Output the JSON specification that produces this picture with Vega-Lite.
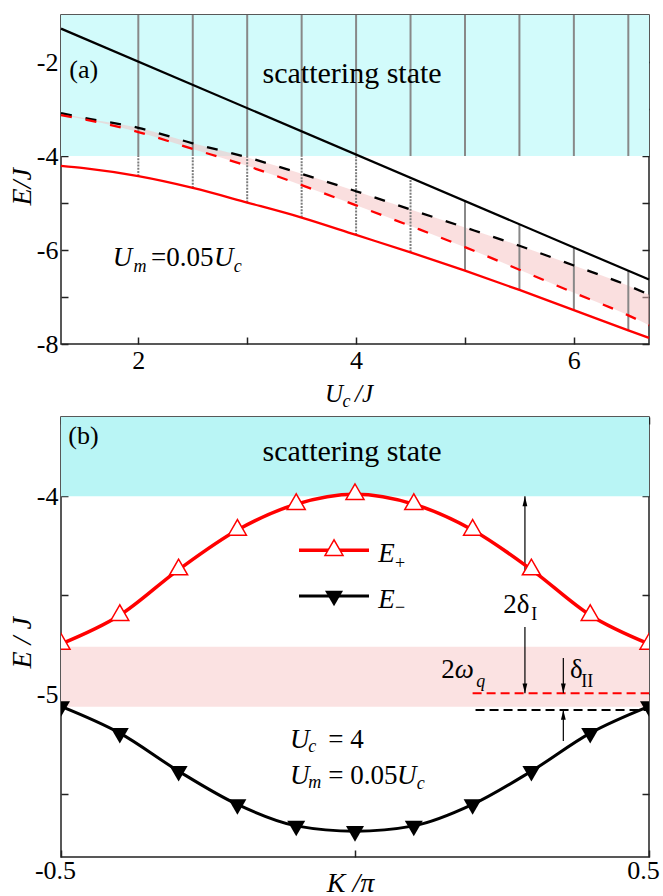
{
  "$schema": "https://vega.github.io/schema/vega-lite/v6.json",
  "autosize": {"type": "pad"},
  "padding": {"left": 7, "top": 13, "right": 0, "bottom": 0},
  "background": "#ffffff",
  "bounds": "flush",
  "spacing": 73,
  "config": {
    "font": "Liberation Serif",
    "view": {"stroke": "#222222", "strokeWidth": 1.5},
    "axis": {
      "domain": false, "grid": false, "tickSize": -7, "tickWidth": 1.5, "tickColor": "#222222",
      "labelFont": "Liberation Serif", "labelFontSize": 26, "labelColor": "#000000",
      "labelOverlap": false, "labelFlush": false, "labelBound": false,
      "titleFont": "Liberation Serif", "titleFontSize": 28, "titleFontStyle": "italic",
      "titleFontWeight": "normal", "titleColor": "#000000"
    },
    "text": {"font": "Liberation Serif", "color": "#000000"}
  },
  "datasets": {
    "a_curves": [
      {"U": 1.29, "solid": -4.21, "dashb": -3.09, "dashr": -3.13},
      {"U": 1.5, "solid": -4.26, "dashb": -3.19, "dashr": -3.22},
      {"U": 2.0, "solid": -4.43, "dashb": -3.40, "dashr": -3.49},
      {"U": 2.5, "solid": -4.68, "dashb": -3.73, "dashr": -3.85},
      {"U": 3.0, "solid": -4.99, "dashb": -4.03, "dashr": -4.21},
      {"U": 3.5, "solid": -5.31, "dashb": -4.38, "dashr": -4.62},
      {"U": 4.0, "solid": -5.68, "dashb": -4.75, "dashr": -5.05},
      {"U": 4.5, "solid": -6.05, "dashb": -5.14, "dashr": -5.49},
      {"U": 5.0, "solid": -6.44, "dashb": -5.52, "dashr": -5.94},
      {"U": 5.5, "solid": -6.85, "dashb": -5.91, "dashr": -6.42},
      {"U": 6.0, "solid": -7.28, "dashb": -6.33, "dashr": -6.91},
      {"U": 6.5, "solid": -7.71, "dashb": -6.76, "dashr": -7.39},
      {"U": 6.69, "solid": -7.87, "dashb": -6.95, "dashr": -7.60}
    ],
    "a_black": [{"U": 1.29, "E": -1.29}, {"U": 6.69, "E": -6.63}],
    "a_cont": [
      {"U": 2.0, "lo": -4.43, "up": -4.0},
      {"U": 2.5, "lo": -4.68, "up": -4.0},
      {"U": 3.0, "lo": -4.99, "up": -4.0},
      {"U": 3.5, "lo": -5.31, "up": -4.0},
      {"U": 4.0, "lo": -5.68, "up": -4.0},
      {"U": 4.5, "lo": -6.05, "up": -4.47},
      {"U": 5.0, "lo": -6.44, "up": -4.97},
      {"U": 5.5, "lo": -6.85, "up": -5.46},
      {"U": 6.0, "lo": -7.28, "up": -5.95},
      {"U": 6.5, "lo": -7.71, "up": -6.44}
    ],
    "b_plus": [
      {"K": -0.5, "E": -4.745}, {"K": -0.4, "E": -4.60}, {"K": -0.3, "E": -4.37},
      {"K": -0.2, "E": -4.17}, {"K": -0.1, "E": -4.04}, {"K": 0.0, "E": -3.99},
      {"K": 0.1, "E": -4.04}, {"K": 0.2, "E": -4.17}, {"K": 0.3, "E": -4.37},
      {"K": 0.4, "E": -4.60}, {"K": 0.5, "E": -4.745}
    ],
    "b_minus": [
      {"K": -0.5, "E": -5.06}, {"K": -0.4, "E": -5.195}, {"K": -0.3, "E": -5.387},
      {"K": -0.2, "E": -5.555}, {"K": -0.1, "E": -5.663}, {"K": 0.0, "E": -5.69},
      {"K": 0.1, "E": -5.663}, {"K": 0.2, "E": -5.555}, {"K": 0.3, "E": -5.387},
      {"K": 0.4, "E": -5.195}, {"K": 0.5, "E": -5.06}
    ]
  },
  "vconcat": [
    {
      "width": 588,
      "height": 329,
      "resolve": {"axis": {"x": "independent", "y": "independent"}},
      "layer": [
        {
          "data": {"values": [{"lo": -4, "hi": -1}]},
          "mark": {"type": "rect", "color": "#d2fbfb"},
          "encoding": {
            "y": {"field": "lo", "type": "quantitative", "scale": {"domain": [-8, -1], "nice": false, "zero": false}, "axis": null},
            "y2": {"field": "hi"}
          }
        },
        {
          "data": {"name": "a_curves"},
          "mark": {"type": "area", "color": "#f5c0c0", "opacity": 0.5, "interpolate": "monotone"},
          "encoding": {
            "x": {"field": "U", "type": "quantitative", "scale": {"domain": [1.29, 6.69], "nice": false, "zero": false}, "axis": null},
            "y": {"field": "dashr", "type": "quantitative", "scale": {"domain": [-8, -1], "nice": false, "zero": false}, "axis": null},
            "y2": {"field": "dashb"}
          }
        },
        {
          "data": {"name": "a_cont"},
          "mark": {"type": "rule", "color": "#888888", "strokeWidth": 2},
          "encoding": {
            "x": {"field": "U", "type": "quantitative", "scale": {"domain": [1.29, 6.69], "nice": false, "zero": false}, "axis": null},
            "y": {"datum": -4, "type": "quantitative", "scale": {"domain": [-8, -1], "nice": false, "zero": false}, "axis": null},
            "y2": {"datum": -1}
          }
        },
        {
          "data": {"name": "a_cont"},
          "transform": [{"filter": "datum.U <= 4.5"}],
          "mark": {"type": "rule", "color": "#7c7c7c", "strokeWidth": 2, "strokeDash": [2, 1.2]},
          "encoding": {
            "x": {"field": "U", "type": "quantitative", "scale": {"domain": [1.29, 6.69], "nice": false, "zero": false}, "axis": null},
            "y": {"field": "lo", "type": "quantitative", "scale": {"domain": [-8, -1], "nice": false, "zero": false}, "axis": null},
            "y2": {"field": "up"}
          }
        },
        {
          "data": {"name": "a_cont"},
          "transform": [{"filter": "datum.U >= 5"}],
          "mark": {"type": "rule", "color": "#888888", "strokeWidth": 2},
          "encoding": {
            "x": {"field": "U", "type": "quantitative", "scale": {"domain": [1.29, 6.69], "nice": false, "zero": false}, "axis": null},
            "y": {"field": "lo", "type": "quantitative", "scale": {"domain": [-8, -1], "nice": false, "zero": false}, "axis": null},
            "y2": {"field": "up"}
          }
        },
        {
          "data": {"name": "a_black"},
          "mark": {"type": "line", "color": "#000000", "strokeWidth": 2.2},
          "encoding": {
            "x": {"field": "U", "type": "quantitative", "scale": {"domain": [1.29, 6.69], "nice": false, "zero": false}, "axis": null},
            "y": {"field": "E", "type": "quantitative", "scale": {"domain": [-8, -1], "nice": false, "zero": false}, "axis": null}
          }
        },
        {
          "data": {"name": "a_curves"},
          "mark": {"type": "line", "color": "#000000", "strokeWidth": 2.3, "strokeDash": [11, 14], "interpolate": "monotone"},
          "encoding": {
            "x": {"field": "U", "type": "quantitative", "scale": {"domain": [1.29, 6.69], "nice": false, "zero": false}, "axis": null},
            "y": {"field": "dashb", "type": "quantitative", "scale": {"domain": [-8, -1], "nice": false, "zero": false}, "axis": null}
          }
        },
        {
          "data": {"name": "a_curves"},
          "mark": {"type": "line", "color": "#ff0000", "strokeWidth": 2.3, "strokeDash": [11, 14], "interpolate": "monotone"},
          "encoding": {
            "x": {"field": "U", "type": "quantitative", "scale": {"domain": [1.29, 6.69], "nice": false, "zero": false}, "axis": null},
            "y": {"field": "dashr", "type": "quantitative", "scale": {"domain": [-8, -1], "nice": false, "zero": false}, "axis": null}
          }
        },
        {
          "data": {"name": "a_curves"},
          "mark": {"type": "line", "color": "#ff0000", "strokeWidth": 2.3, "interpolate": "monotone"},
          "encoding": {
            "x": {"field": "U", "type": "quantitative", "scale": {"domain": [1.29, 6.69], "nice": false, "zero": false}, "axis": null},
            "y": {"field": "solid", "type": "quantitative", "scale": {"domain": [-8, -1], "nice": false, "zero": false}, "axis": null}
          }
        },
        {
          "data": {"values": [{"U": 3.963, "E": -2.44, "t": "scattering state"}]},
          "mark": {"type": "text", "align": "center", "baseline": "alphabetic", "fontSize": 30},
          "encoding": {
            "x": {"field": "U", "type": "quantitative", "scale": {"domain": [1.29, 6.69], "nice": false, "zero": false}, "axis": null},
            "y": {"field": "E", "type": "quantitative", "scale": {"domain": [-8, -1], "nice": false, "zero": false}, "axis": null},
            "text": {"field": "t"}
          }
        },
        {
          "data": {"values": [{"U": 1.366, "E": -2.334, "t": "(a)"}]},
          "mark": {"type": "text", "align": "left", "baseline": "alphabetic", "fontSize": 26},
          "encoding": {
            "x": {"field": "U", "type": "quantitative", "scale": {"domain": [1.29, 6.69], "nice": false, "zero": false}, "axis": null},
            "y": {"field": "E", "type": "quantitative", "scale": {"domain": [-8, -1], "nice": false, "zero": false}, "axis": null},
            "text": {"field": "t"}
          }
        },
        {
          "data": {"values": [{"U": 2.116, "E": -6.34, "t": "=0.05"}]},
          "mark": {"type": "text", "align": "left", "baseline": "alphabetic", "fontSize": 27},
          "encoding": {
            "x": {"field": "U", "type": "quantitative", "scale": {"domain": [1.29, 6.69], "nice": false, "zero": false}, "axis": null},
            "y": {"field": "E", "type": "quantitative", "scale": {"domain": [-8, -1], "nice": false, "zero": false}, "axis": null},
            "text": {"field": "t"}
          }
        },
        {
          "data": {"values": [
            {"U": 1.766, "E": -6.34, "t": "U"},
            {"U": 2.696, "E": -6.34, "t": "U"}
          ]},
          "mark": {"type": "text", "align": "left", "baseline": "alphabetic", "fontSize": 27, "fontStyle": "italic"},
          "encoding": {
            "x": {"field": "U", "type": "quantitative", "scale": {"domain": [1.29, 6.69], "nice": false, "zero": false}, "axis": null},
            "y": {"field": "E", "type": "quantitative", "scale": {"domain": [-8, -1], "nice": false, "zero": false}, "axis": null},
            "text": {"field": "t"}
          }
        },
        {
          "data": {"values": [
            {"U": 1.955, "E": -6.47, "t": "m"},
            {"U": 2.877, "E": -6.47, "t": "c"}
          ]},
          "mark": {"type": "text", "align": "left", "baseline": "alphabetic", "fontSize": 18, "fontStyle": "italic"},
          "encoding": {
            "x": {"field": "U", "type": "quantitative", "scale": {"domain": [1.29, 6.69], "nice": false, "zero": false}, "axis": null},
            "y": {"field": "E", "type": "quantitative", "scale": {"domain": [-8, -1], "nice": false, "zero": false}, "axis": null},
            "text": {"field": "t"}
          }
        },
        {
          "data": {"values": [
            {"U": 3.715, "E": -9.234, "t": "U"},
            {"U": 3.99, "E": -9.234, "t": "/J"}
          ]},
          "mark": {"type": "text", "align": "left", "baseline": "alphabetic", "fontSize": 25, "fontStyle": "italic"},
          "encoding": {
            "x": {"field": "U", "type": "quantitative", "scale": {"domain": [1.29, 6.69], "nice": false, "zero": false}, "axis": null},
            "y": {"field": "E", "type": "quantitative", "scale": {"domain": [-8, -1], "nice": false, "zero": false}, "axis": null},
            "text": {"field": "t"}
          }
        },
        {
          "data": {"values": [{"U": 3.875, "E": -9.34, "t": "c"}]},
          "mark": {"type": "text", "align": "left", "baseline": "alphabetic", "fontSize": 18, "fontStyle": "italic"},
          "encoding": {
            "x": {"field": "U", "type": "quantitative", "scale": {"domain": [1.29, 6.69], "nice": false, "zero": false}, "axis": null},
            "y": {"field": "E", "type": "quantitative", "scale": {"domain": [-8, -1], "nice": false, "zero": false}, "axis": null},
            "text": {"field": "t"}
          }
        },
        {
          "data": {"name": "a_curves"},
          "mark": {"type": "point", "opacity": 0},
          "encoding": {
            "x": {"field": "U", "type": "quantitative", "scale": {"domain": [1.29, 6.69], "nice": false, "zero": false},
              "axis": {"orient": "bottom", "values": [2, 3, 4, 5, 6], "labelExpr": "datum.value % 2 == 0 ? '' + datum.value : ''", "labelPadding": 10, "title": null}},
            "y": {"field": "solid", "type": "quantitative", "scale": {"domain": [-8, -1], "nice": false, "zero": false},
              "axis": {"orient": "left", "values": [-8, -7, -6, -5, -4, -3, -2], "labelExpr": "datum.value % 2 == 0 ? '' + datum.value : ''", "labelPadding": 10,
                "title": "E/J", "titleAngle": -90, "titleX": -31, "titleY": 190, "titleAlign": "left", "titleBaseline": "alphabetic"}}
          }
        },
        {
          "data": {"name": "a_curves"},
          "mark": {"type": "point", "opacity": 0},
          "encoding": {
            "x": {"field": "U", "type": "quantitative", "scale": {"domain": [1.29, 6.69], "nice": false, "zero": false},
              "axis": {"orient": "top", "values": [2, 3, 4, 5, 6], "labels": false, "title": null}},
            "y": {"field": "solid", "type": "quantitative", "scale": {"domain": [-8, -1], "nice": false, "zero": false},
              "axis": {"orient": "right", "values": [-8, -7, -6, -5, -4, -3, -2], "labels": false, "title": null}}
          }
        }
      ]
    },
    {
      "width": 588,
      "height": 440,
      "resolve": {"axis": {"x": "independent", "y": "independent"}},
      "layer": [
        {
          "data": {"values": [{"lo": -4, "hi": -3.6}]},
          "mark": {"type": "rect", "color": "#b9f5f5"},
          "encoding": {
            "y": {"field": "lo", "type": "quantitative", "scale": {"domain": [-5.82, -3.6], "nice": false, "zero": false}, "axis": null},
            "y2": {"field": "hi"}
          }
        },
        {
          "data": {"values": [{"lo": -5.062, "hi": -4.759}]},
          "mark": {"type": "rect", "color": "#fbe2e2"},
          "encoding": {
            "y": {"field": "lo", "type": "quantitative", "scale": {"domain": [-5.82, -3.6], "nice": false, "zero": false}, "axis": null},
            "y2": {"field": "hi"}
          }
        },
        {
          "data": {"values": [{"K0": 0.2, "K1": 0.5, "E": -4.994}]},
          "mark": {"type": "rule", "color": "#ff0000", "strokeWidth": 2, "strokeDash": [9, 5]},
          "encoding": {
            "x": {"field": "K0", "type": "quantitative", "scale": {"domain": [-0.5, 0.5], "nice": false, "zero": false}, "axis": null},
            "x2": {"field": "K1"},
            "y": {"field": "E", "type": "quantitative", "scale": {"domain": [-5.82, -3.6], "nice": false, "zero": false}, "axis": null}
          }
        },
        {
          "data": {"values": [{"K0": 0.205, "K1": 0.5, "E": -5.078}]},
          "mark": {"type": "rule", "color": "#000000", "strokeWidth": 2, "strokeDash": [9, 5]},
          "encoding": {
            "x": {"field": "K0", "type": "quantitative", "scale": {"domain": [-0.5, 0.5], "nice": false, "zero": false}, "axis": null},
            "x2": {"field": "K1"},
            "y": {"field": "E", "type": "quantitative", "scale": {"domain": [-5.82, -3.6], "nice": false, "zero": false}, "axis": null}
          }
        },
        {
          "data": {"values": [
            {"K": 0.289, "E0": -4.391, "E1": -4.0},
            {"K": 0.289, "E0": -4.659, "E1": -4.994},
            {"K": 0.3543, "E0": -4.816, "E1": -4.994},
            {"K": 0.3543, "E0": -5.235, "E1": -5.078}
          ]},
          "mark": {"type": "rule", "color": "#000000", "strokeWidth": 1.2},
          "encoding": {
            "x": {"field": "K", "type": "quantitative", "scale": {"domain": [-0.5, 0.5], "nice": false, "zero": false}, "axis": null},
            "y": {"field": "E0", "type": "quantitative", "scale": {"domain": [-5.82, -3.6], "nice": false, "zero": false}, "axis": null},
            "y2": {"field": "E1"}
          }
        },
        {
          "data": {"values": [{"K": 0.289, "E": -4.0}, {"K": 0.3543, "E": -5.078}]},
          "mark": {"type": "point", "shape": "M0,0L-0.8,3.3L0.8,3.3Z", "size": 36, "filled": true, "color": "#000000", "opacity": 1},
          "encoding": {
            "x": {"field": "K", "type": "quantitative", "scale": {"domain": [-0.5, 0.5], "nice": false, "zero": false}, "axis": null},
            "y": {"field": "E", "type": "quantitative", "scale": {"domain": [-5.82, -3.6], "nice": false, "zero": false}, "axis": null}
          }
        },
        {
          "data": {"values": [{"K": 0.289, "E": -4.994}, {"K": 0.3543, "E": -4.994}]},
          "mark": {"type": "point", "shape": "M0,0L-0.8,-3.3L0.8,-3.3Z", "size": 36, "filled": true, "color": "#000000", "opacity": 1},
          "encoding": {
            "x": {"field": "K", "type": "quantitative", "scale": {"domain": [-0.5, 0.5], "nice": false, "zero": false}, "axis": null},
            "y": {"field": "E", "type": "quantitative", "scale": {"domain": [-5.82, -3.6], "nice": false, "zero": false}, "axis": null}
          }
        },
        {
          "data": {"name": "b_plus"},
          "mark": {"type": "line", "color": "#ff0000", "strokeWidth": 3.5, "interpolate": "monotone", "clip": true},
          "encoding": {
            "x": {"field": "K", "type": "quantitative", "scale": {"domain": [-0.5, 0.5], "nice": false, "zero": false}, "axis": null},
            "y": {"field": "E", "type": "quantitative", "scale": {"domain": [-5.82, -3.6], "nice": false, "zero": false}, "axis": null}
          }
        },
        {
          "data": {"name": "b_minus"},
          "mark": {"type": "line", "color": "#000000", "strokeWidth": 3, "interpolate": "monotone", "clip": true},
          "encoding": {
            "x": {"field": "K", "type": "quantitative", "scale": {"domain": [-0.5, 0.5], "nice": false, "zero": false}, "axis": null},
            "y": {"field": "E", "type": "quantitative", "scale": {"domain": [-5.82, -3.6], "nice": false, "zero": false}, "axis": null}
          }
        },
        {
          "data": {"name": "b_plus"},
          "mark": {"type": "point", "shape": "M0,-1.155L-1,0.577L1,0.577Z", "size": 324, "filled": true, "fill": "#ffffff", "stroke": "#ff0000", "strokeWidth": 1.5, "opacity": 1, "clip": true},
          "encoding": {
            "x": {"field": "K", "type": "quantitative", "scale": {"domain": [-0.5, 0.5], "nice": false, "zero": false}, "axis": null},
            "y": {"field": "E", "type": "quantitative", "scale": {"domain": [-5.82, -3.6], "nice": false, "zero": false}, "axis": null}
          }
        },
        {
          "data": {"name": "b_minus"},
          "mark": {"type": "point", "shape": "M0,1.155L-1,-0.577L1,-0.577Z", "size": 324, "filled": true, "color": "#000000", "opacity": 1, "clip": true},
          "encoding": {
            "x": {"field": "K", "type": "quantitative", "scale": {"domain": [-0.5, 0.5], "nice": false, "zero": false}, "axis": null},
            "y": {"field": "E", "type": "quantitative", "scale": {"domain": [-5.82, -3.6], "nice": false, "zero": false}, "axis": null}
          }
        },
        {
          "data": {"values": [{"K": -0.0952, "E": -4.272}, {"K": 0.0238, "E": -4.272}]},
          "mark": {"type": "line", "color": "#ff0000", "strokeWidth": 3.5},
          "encoding": {
            "x": {"field": "K", "type": "quantitative", "scale": {"domain": [-0.5, 0.5], "nice": false, "zero": false}, "axis": null},
            "y": {"field": "E", "type": "quantitative", "scale": {"domain": [-5.82, -3.6], "nice": false, "zero": false}, "axis": null}
          }
        },
        {
          "data": {"values": [{"K": -0.0952, "E": -4.503}, {"K": 0.0238, "E": -4.503}]},
          "mark": {"type": "line", "color": "#000000", "strokeWidth": 3},
          "encoding": {
            "x": {"field": "K", "type": "quantitative", "scale": {"domain": [-0.5, 0.5], "nice": false, "zero": false}, "axis": null},
            "y": {"field": "E", "type": "quantitative", "scale": {"domain": [-5.82, -3.6], "nice": false, "zero": false}, "axis": null}
          }
        },
        {
          "data": {"values": [{"K": -0.0357, "E": -4.272}]},
          "mark": {"type": "point", "shape": "M0,-1.155L-1,0.577L1,0.577Z", "size": 324, "filled": true, "fill": "#ffffff", "stroke": "#ff0000", "strokeWidth": 1.5, "opacity": 1},
          "encoding": {
            "x": {"field": "K", "type": "quantitative", "scale": {"domain": [-0.5, 0.5], "nice": false, "zero": false}, "axis": null},
            "y": {"field": "E", "type": "quantitative", "scale": {"domain": [-5.82, -3.6], "nice": false, "zero": false}, "axis": null}
          }
        },
        {
          "data": {"values": [{"K": -0.0357, "E": -4.503}]},
          "mark": {"type": "point", "shape": "M0,1.155L-1,-0.577L1,-0.577Z", "size": 324, "filled": true, "color": "#000000", "opacity": 1},
          "encoding": {
            "x": {"field": "K", "type": "quantitative", "scale": {"domain": [-0.5, 0.5], "nice": false, "zero": false}, "axis": null},
            "y": {"field": "E", "type": "quantitative", "scale": {"domain": [-5.82, -3.6], "nice": false, "zero": false}, "axis": null}
          }
        },
        {
          "data": {"values": [{"K": -0.005, "E": -3.821, "t": "scattering state"}]},
          "mark": {"type": "text", "align": "center", "baseline": "alphabetic", "fontSize": 30},
          "encoding": {
            "x": {"field": "K", "type": "quantitative", "scale": {"domain": [-0.5, 0.5], "nice": false, "zero": false}, "axis": null},
            "y": {"field": "E", "type": "quantitative", "scale": {"domain": [-5.82, -3.6], "nice": false, "zero": false}, "axis": null},
            "text": {"field": "t"}
          }
        },
        {
          "data": {"values": [{"K": -0.4876, "E": -3.735, "t": "(b)"}]},
          "mark": {"type": "text", "align": "left", "baseline": "alphabetic", "fontSize": 26},
          "encoding": {
            "x": {"field": "K", "type": "quantitative", "scale": {"domain": [-0.5, 0.5], "nice": false, "zero": false}, "axis": null},
            "y": {"field": "E", "type": "quantitative", "scale": {"domain": [-5.82, -3.6], "nice": false, "zero": false}, "axis": null},
            "text": {"field": "t"}
          }
        },
        {
          "data": {"values": [
            {"K": -0.0454, "E": -5.2687, "t": "= 4"},
            {"K": -0.0454, "E": -5.4535, "t": "= 0.05"},
            {"K": 0.2522, "E": -4.587, "t": "2δ"},
            {"K": 0.3656, "E": -4.915, "t": "δ"},
            {"K": 0.1468, "E": -4.917, "t": "2"}
          ]},
          "mark": {"type": "text", "align": "left", "baseline": "alphabetic", "fontSize": 27},
          "encoding": {
            "x": {"field": "K", "type": "quantitative", "scale": {"domain": [-0.5, 0.5], "nice": false, "zero": false}, "axis": null},
            "y": {"field": "E", "type": "quantitative", "scale": {"domain": [-5.82, -3.6], "nice": false, "zero": false}, "axis": null},
            "text": {"field": "t"}
          }
        },
        {
          "data": {"values": [
            {"K": -0.1105, "E": -5.2687, "t": "U"},
            {"K": -0.1105, "E": -5.4535, "t": "U"},
            {"K": 0.0715, "E": -5.4535, "t": "U"},
            {"K": 0.0396, "E": -4.334, "t": "E"},
            {"K": 0.0396, "E": -4.562, "t": "E"},
            {"K": 0.1698, "E": -4.917, "t": "ω"}
          ]},
          "mark": {"type": "text", "align": "left", "baseline": "alphabetic", "fontSize": 27, "fontStyle": "italic"},
          "encoding": {
            "x": {"field": "K", "type": "quantitative", "scale": {"domain": [-0.5, 0.5], "nice": false, "zero": false}, "axis": null},
            "y": {"field": "E", "type": "quantitative", "scale": {"domain": [-5.82, -3.6], "nice": false, "zero": false}, "axis": null},
            "text": {"field": "t"}
          }
        },
        {
          "data": {"values": [
            {"K": -0.0794, "E": -5.289, "t": "c"},
            {"K": -0.0794, "E": -5.472, "t": "m"},
            {"K": 0.105, "E": -5.477, "t": "c"},
            {"K": 0.2063, "E": -4.962, "t": "q"}
          ]},
          "mark": {"type": "text", "align": "left", "baseline": "alphabetic", "fontSize": 18, "fontStyle": "italic"},
          "encoding": {
            "x": {"field": "K", "type": "quantitative", "scale": {"domain": [-0.5, 0.5], "nice": false, "zero": false}, "axis": null},
            "y": {"field": "E", "type": "quantitative", "scale": {"domain": [-5.82, -3.6], "nice": false, "zero": false}, "axis": null},
            "text": {"field": "t"}
          }
        },
        {
          "data": {"values": [
            {"K": 0.2998, "E": -4.624, "t": "I"},
            {"K": 0.3849, "E": -4.961, "t": "II"},
            {"K": 0.068, "E": -4.366, "t": "+"},
            {"K": 0.068, "E": -4.588, "t": "−"}
          ]},
          "mark": {"type": "text", "align": "left", "baseline": "alphabetic", "fontSize": 18},
          "encoding": {
            "x": {"field": "K", "type": "quantitative", "scale": {"domain": [-0.5, 0.5], "nice": false, "zero": false}, "axis": null},
            "y": {"field": "E", "type": "quantitative", "scale": {"domain": [-5.82, -3.6], "nice": false, "zero": false}, "axis": null},
            "text": {"field": "t"}
          }
        },
        {
          "data": {"name": "b_plus"},
          "mark": {"type": "point", "opacity": 0},
          "encoding": {
            "x": {"field": "K", "type": "quantitative", "scale": {"domain": [-0.5, 0.5], "nice": false, "zero": false},
              "axis": {"orient": "bottom", "values": [-0.5, 0, 0.5], "labelExpr": "datum.value == 0 ? '' : '' + datum.value", "labelPadding": 7, "labelOffset": -6,
                "title": "K /π", "titleX": 289, "titleY": 34, "titleAlign": "center", "titleBaseline": "alphabetic"}},
            "y": {"field": "E", "type": "quantitative", "scale": {"domain": [-5.82, -3.6], "nice": false, "zero": false},
              "axis": {"orient": "left", "values": [-5.5, -5, -4.5, -4], "labelExpr": "datum.value % 1 == 0 ? '' + datum.value : ''", "labelPadding": 10,
                "title": "E / J", "titleAngle": -90, "titleX": -31, "titleY": 251, "titleAlign": "left", "titleBaseline": "alphabetic"}}
          }
        },
        {
          "data": {"name": "b_plus"},
          "mark": {"type": "point", "opacity": 0},
          "encoding": {
            "x": {"field": "K", "type": "quantitative", "scale": {"domain": [-0.5, 0.5], "nice": false, "zero": false},
              "axis": {"orient": "top", "values": [-0.5, 0, 0.5], "labels": false, "title": null}},
            "y": {"field": "E", "type": "quantitative", "scale": {"domain": [-5.82, -3.6], "nice": false, "zero": false},
              "axis": {"orient": "right", "values": [-5.5, -5, -4.5, -4], "labels": false, "title": null}}
          }
        }
      ]
    }
  ]
}
